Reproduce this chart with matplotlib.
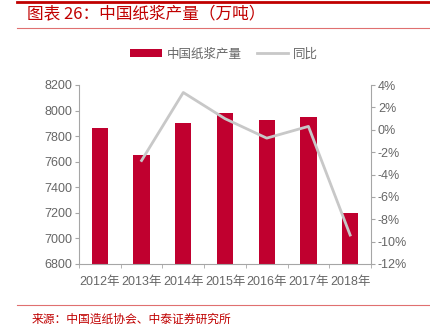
import matplotlib
matplotlib.use("Agg")
import matplotlib.pyplot as plt
from matplotlib.lines import Line2D
from matplotlib.patches import Patch
import numpy as np

years = ["2012年", "2013年", "2014年", "2015年", "2016年", "2017年", "2018年"]
output = [7867, 7651, 7906, 7984, 7924, 7948, 7200]
yoy = [None, -2.75, 3.33, 0.99, -0.75, 0.30, -9.41]

plt.rcParams['font.family'] = ['Liberation Sans', 'Noto Sans CJK SC', 'DejaVu Sans']
RED = '#C0002F'
GRAY_LINE = '#C8C8C8'
TXT = '#666666'
SPINE = '#A6A6A6'

fig = plt.figure(figsize=(4.31, 3.30), dpi=100)
ax = fig.add_axes([79/431, 1-264/330, (371-79)/431, (264-85)/330])
x = np.arange(len(years))
ax.bar(x, output, width=0.39, color=RED, zorder=2)
ax.set_ylim(6800, 8200)
ax.set_yticks(range(6800, 8201, 200))
ax.set_xlim(-0.5, len(years)-0.5)
ax.set_xticks(x)
ax.set_xticklabels(years)
ax.set_xticks(np.arange(-0.5, len(years), 1), minor=True)
ax.tick_params(axis='x', which='major', length=0, pad=9, labelsize=9, colors=TXT)
ax.tick_params(axis='x', which='minor', length=3, direction='out', color=SPINE)
ax.tick_params(axis='y', length=3, direction='out', color=SPINE, labelsize=9, labelcolor=TXT, pad=2)
for s in ['top', 'right']:
    ax.spines[s].set_visible(False)
for s in ['left', 'bottom']:
    ax.spines[s].set_color(SPINE)
    ax.spines[s].set_linewidth(0.8)

ax2 = ax.twinx()
xs = [i for i, v in enumerate(yoy) if v is not None]
vs = [v for v in yoy if v is not None]
ax2.plot(xs, vs, color=GRAY_LINE, lw=2, zorder=3)
ax2.set_ylim(-12, 4)
ax2.set_yticks(range(-12, 5, 2))
ax2.set_yticklabels([f"{t}%" for t in range(-12, 5, 2)])
ax2.tick_params(axis='y', length=3, direction='out', color=SPINE, labelsize=9, labelcolor=TXT, pad=2)
for s in ['top', 'left', 'bottom']:
    ax2.spines[s].set_visible(False)
ax2.spines['right'].set_color(SPINE)
ax2.spines['right'].set_linewidth(0.8)

handles = [Patch(facecolor=RED, edgecolor='none'), Line2D([0], [0], color=GRAY_LINE, lw=2)]
fig.legend(handles, ["中国纸浆产量", "同比"], loc='center', bbox_to_anchor=(0.52, 1-54/330),
           ncol=2, frameon=False, labelcolor=TXT, handlelength=2.5, handleheight=0.6,
           columnspacing=1.2, handletextpad=0.4, prop={'family': ['Noto Sans CJK SC'], 'size': 9})

# decorative lines
fig.add_artist(Line2D([17/431, 1], [1-2/330, 1-2/330], color='#C00000', lw=2, transform=fig.transFigure))
fig.add_artist(Line2D([17/431, 1], [1-28/330, 1-28/330], color='#E07070', lw=0.8, transform=fig.transFigure))
fig.add_artist(Line2D([17/431, 1], [1-305/330, 1-305/330], color='#E07070', lw=0.8, transform=fig.transFigure))

fig.text(27/431, 1-15/330, "图表 26：中国纸浆产量（万吨）", color='#C00000', fontsize=12,
         fontweight='medium', fontstyle='italic', va='center', ha='left',
         family=['Noto Sans CJK SC', 'DejaVu Sans'])
fig.text(32/431, 1-319/330, "来源：中国造纸协会、中泰证券研究所", color='#C00000', fontsize=8.5,
         va='center', ha='left', family=['Noto Sans CJK SC', 'DejaVu Sans'])

fig.savefig("out.png", dpi=100)
